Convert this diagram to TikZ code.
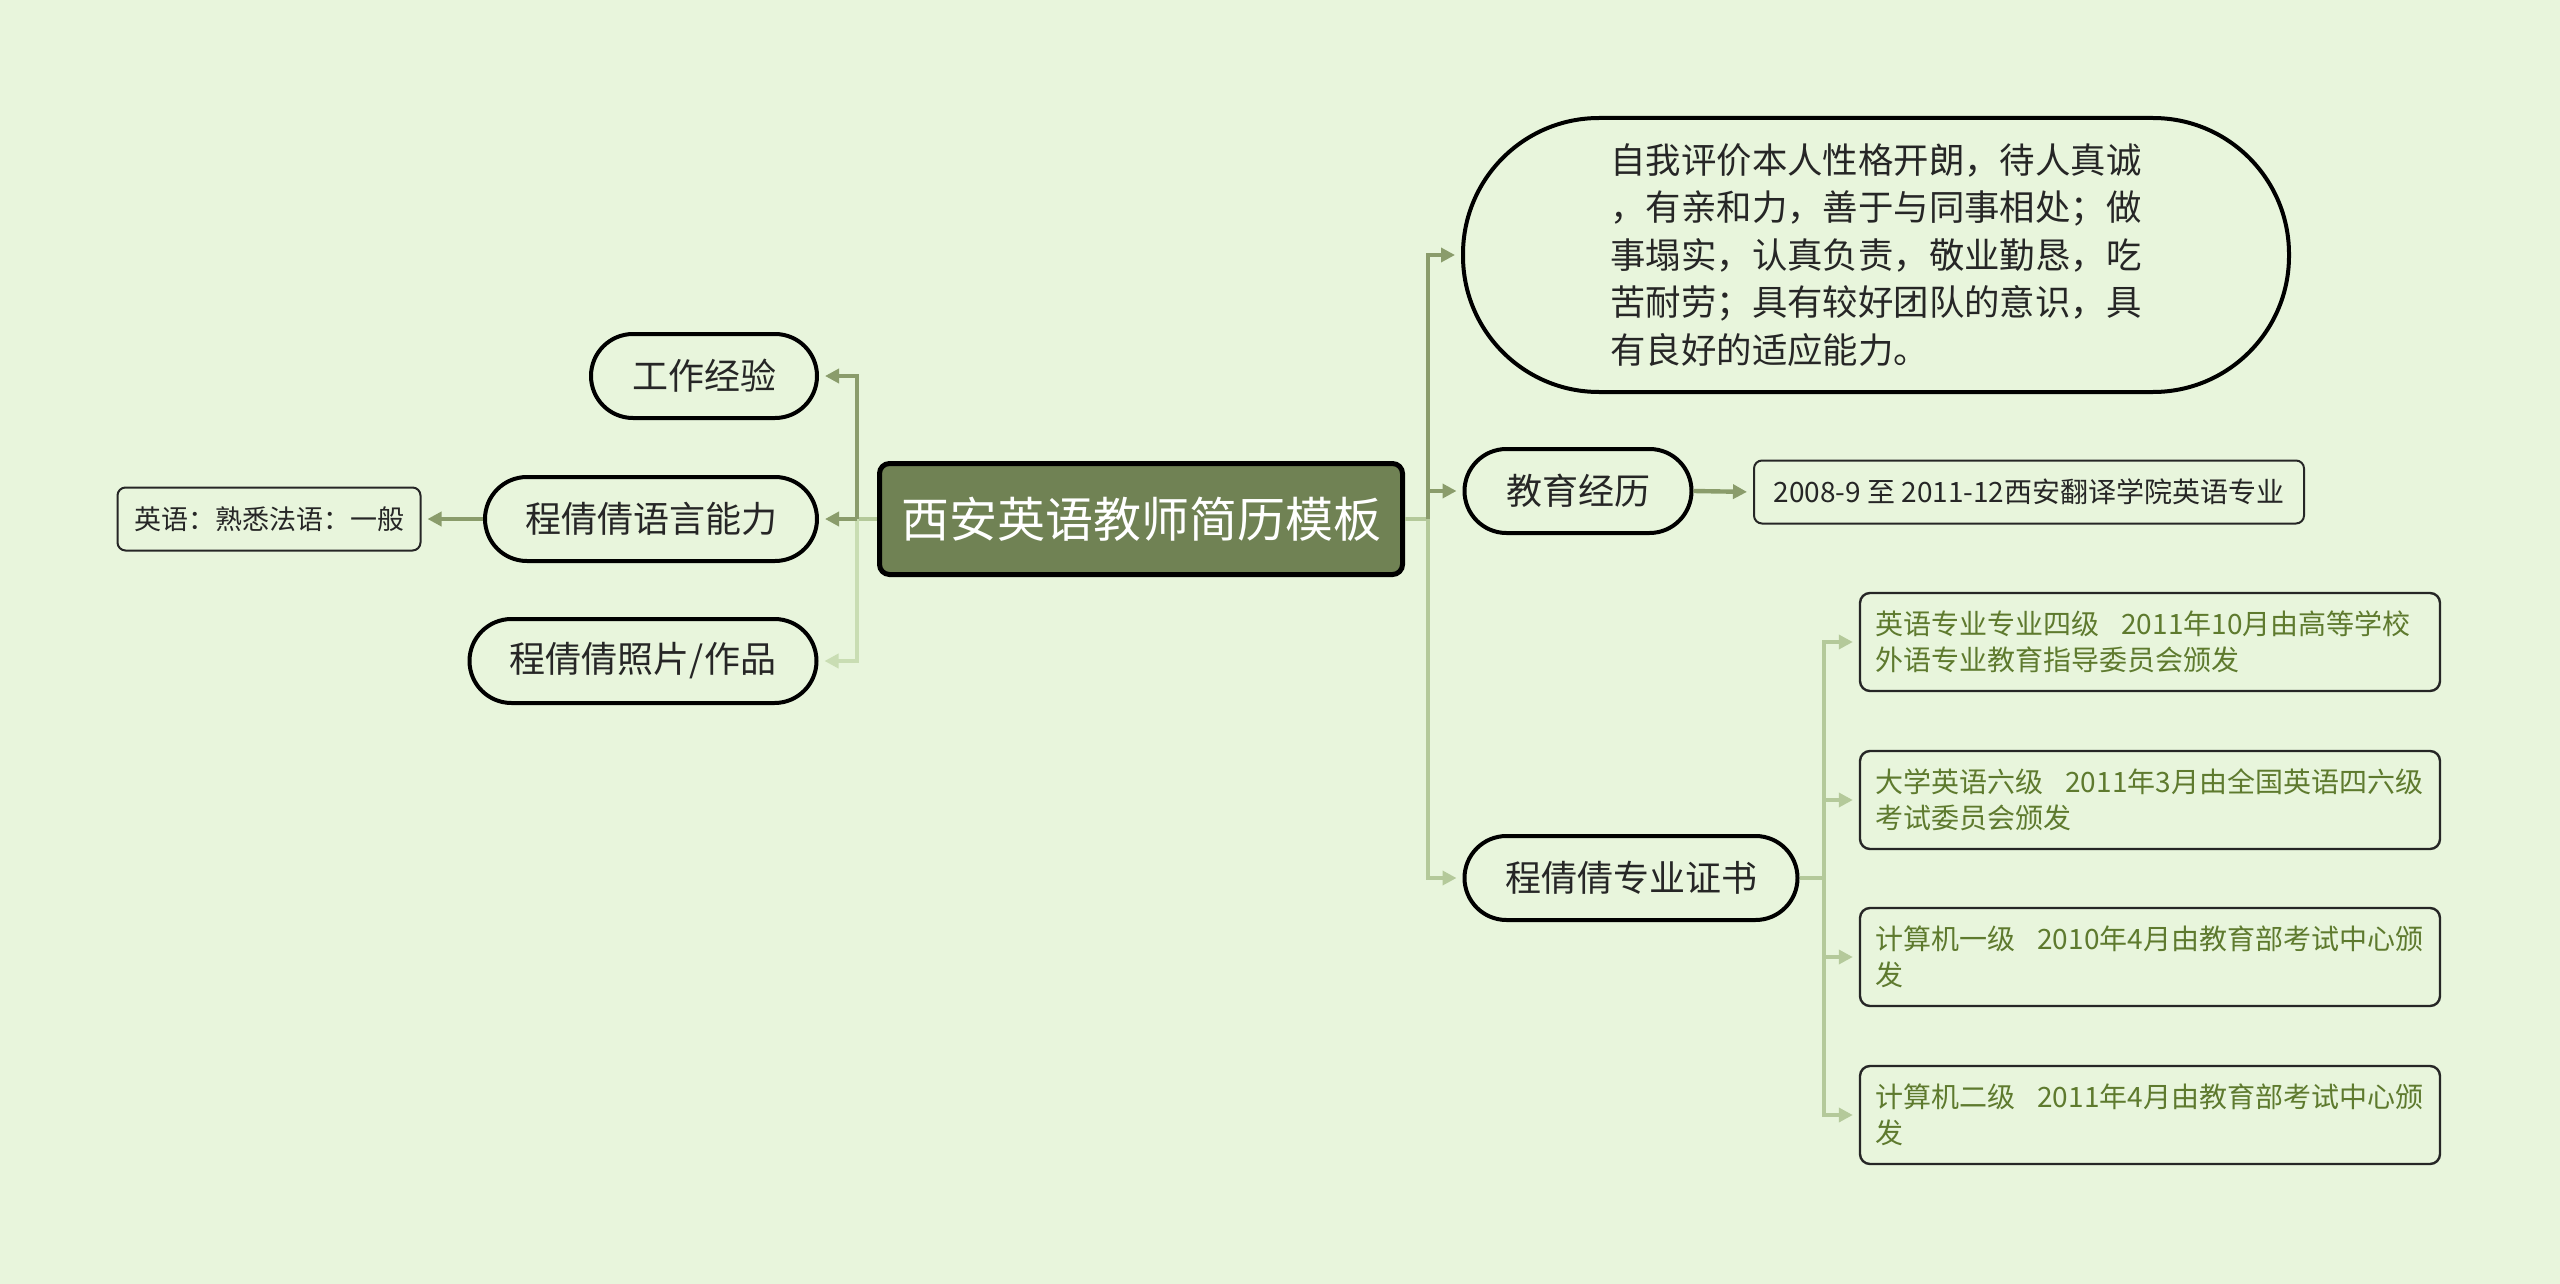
\documentclass[tikz,border=0pt]{standalone}
\usepackage{fontspec}
\newfontfamily\cjk{Noto Sans CJK SC}
\usetikzlibrary{arrows.meta}
\definecolor{bgmint}{HTML}{E8F5DC}
\definecolor{rootfill}{HTML}{708254}
\definecolor{linedark}{HTML}{8A9C6B}
\definecolor{linelight}{HTML}{B4C99A}
\definecolor{linepale}{HTML}{C9DDB3}
\definecolor{certtext}{HTML}{5E7A2E}
\definecolor{inktext}{HTML}{262626}
\tikzset{
  root/.style={draw=black, line width=2.5pt, rounded corners=5pt, fill=rootfill,
    text=white, font=\cjk\fontsize{24pt}{28pt}\selectfont,
    minimum width=261.5pt, minimum height=55.5pt, inner sep=0pt},
  topic/.style={draw=black, line width=2pt, rounded corners=21pt, fill=bgmint,
    text=inktext, font=\cjk\fontsize{18pt}{22pt}\selectfont,
    minimum height=42pt, inner sep=0pt},
  leafbox/.style={draw=black!85, line width=1pt, rounded corners=4pt, fill=bgmint,
    text=inktext, font=\cjk\fontsize{13.5pt}{16pt}\selectfont,
    minimum height=31.5pt, inner sep=0pt},
  certbox/.style={draw=black!85, line width=1.2pt, rounded corners=5pt, fill=bgmint,
    text=certtext, font=\cjk\fontsize{14pt}{18pt}\selectfont, align=left,
    text width=275pt, inner xsep=7.5pt, minimum height=49pt},
  link/.style={line width=2.2pt, -{Triangle[length=7pt,width=7pt]}, shorten >=3pt},
}
\begin{document}
\begin{tikzpicture}[x=0.5pt, y=-0.5pt]
  \fill[bgmint] (0,0) rectangle (2560,1284);
  \useasboundingbox (0,0) rectangle (2560,1284);
  % nodes
  \node[root] (center) at (1141,519) {西安英语教师简历模板};
  \node[topic, minimum width=113pt] (work) at (704,376) {工作经验};
  \node[topic, minimum width=166pt] (lang) at (651,519) {程倩倩语言能力};
  \node[topic, minimum width=173.5pt] (photo) at (643,661) {程倩倩照片/作品};
  \node[leafbox, minimum width=151.5pt] (langleaf) at (269,519) {英语：熟悉法语：一般};
  \node[topic, rounded corners=68pt, minimum width=413pt, minimum height=137pt,
    align=left, font=\cjk\fontsize{17.7pt}{23.7pt}\selectfont] (self) at (1876,255)
    {自我评价本人性格开朗，待人真诚\\，有亲和力，善于与同事相处；做\\事塌实，认真负责，敬业勤恳，吃\\苦耐劳；具有较好团队的意识，具\\有良好的适应能力。};
  \node[topic, minimum width=113.5pt] (edu) at (1578,491) {教育经历};
  \node[leafbox, minimum width=275pt, font=\cjk\fontsize{14pt}{16pt}\selectfont] (eduleaf) at (2029,492) {2008-9 至 2011-12西安翻译学院英语专业};
  \node[topic, minimum width=166.5pt] (cert) at (1631,878) {程倩倩专业证书};
  \node[certbox] (c1) at (2150,642) {英语专业专业四级\hspace{0.8em}2011年10月由高等学校\\外语专业教育指导委员会颁发};
  \node[certbox] (c2) at (2150,800) {大学英语六级\hspace{0.8em}2011年3月由全国英语四六级\\考试委员会颁发};
  \node[certbox] (c3) at (2150,957) {计算机一级\hspace{0.8em}2010年4月由教育部考试中心颁\\发};
  \node[certbox] (c4) at (2150,1115) {计算机二级\hspace{0.8em}2011年4月由教育部考试中心颁\\发};
  \coordinate (ljoin) at (857,519);
  \coordinate (rjoin) at (1428,519);
  \coordinate (certjoin) at (1824,878);
  % connectors
  \begin{scope}[line width=2.2pt]
    \draw[linelight] (center.west) -- (ljoin);
    \draw[linelight] (center.east) -- (rjoin);
    \draw[link, linepale] (ljoin) |- (photo.east);
    \draw[link, linedark] (ljoin) |- (work.east);
    \draw[link, linedark] (ljoin) -- (lang.east);
    \draw[link, linedark] (lang.west) -- (langleaf.east);
    \draw[link, linelight] (rjoin) |- (cert.west);
    \draw[link, linedark] (rjoin) |- (self.west);
    \draw[link, linedark] (rjoin) |- (edu.west);
    \draw[link, linedark] (edu.east) -- (eduleaf.west);
    \draw[linelight] (cert.east) -- (certjoin);
    \draw[link, linelight] (certjoin) |- (c1.west);
    \draw[link, linelight] (certjoin) |- (c2.west);
    \draw[link, linelight] (certjoin) |- (c3.west);
    \draw[link, linelight] (certjoin) |- (c4.west);
  \end{scope}
\end{tikzpicture}
\end{document}
